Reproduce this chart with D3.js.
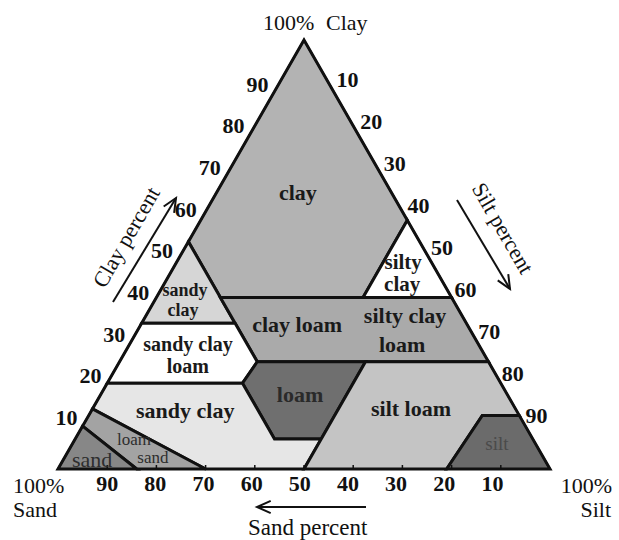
<!DOCTYPE html>
<html>
<head>
<meta charset="utf-8">
<script src="https://cdn.jsdelivr.net/npm/d3@7"></script>
<style>
  html, body { margin: 0; padding: 0; background: #ffffff; }
  svg { display: block; }
</style>
</head>
<body>
<svg id="chart" width="619" height="540"></svg>
<script>
// ---- Texture class boundaries, vertices as [sand, silt, clay] percent ----
const clayRegion          = [[0, 0, 100], [47, 0, 53], [47, 13, 40], [18, 42, 40], [0, 42, 58]];
const sandyClayRegion     = [[47, 0, 53], [66, 0, 34], [47, 19, 34]];
const siltyClayRegion     = [[0, 42, 58], [18, 42, 40], [0, 60, 40]];
const clayLoamBand        = [[47, 13, 40], [0, 60, 40], [0, 75, 25], [47, 28, 25]];
const sandyClayLoamRegion = [[66, 0, 34], [47, 19, 34], [47, 28, 25], [52.5, 27.5, 20], [80, 0, 20]];
const loamRegion          = [[47, 28, 25], [25, 50, 25], [43, 50, 7], [52.5, 40.5, 7], [52.5, 27.5, 20]];
const sandyLoamRegion     = [[80, 0, 20], [52.5, 27.5, 20], [52.5, 40.5, 7], [43, 50, 7], [50, 50, 0], [70, 30, 0], [86, 0, 14]];
const siltLoamRegion      = [[25, 50, 25], [0, 75, 25], [0, 87.5, 12.5], [7.5, 80, 12.5], [21, 79, 0], [50, 50, 0]];
const siltRegion          = [[7.5, 80, 12.5], [0, 87.5, 12.5], [0, 100, 0], [21, 79, 0]];
const loamySandRegion     = [[86, 0, 14], [70, 30, 0], [84, 16, 0], [90, 0, 10]];
const sandRegion          = [[90, 0, 10], [84, 16, 0], [100, 0, 0]];

// ---- Class names as printed, one anchor per printed line, [sand, silt, clay] ----
const classLabels  = [["clay"], ["sandy", "clay"], ["silty", "clay"], ["clay loam"], ["silty clay", "loam"],
                      ["sandy clay", "loam"], ["loam"], ["sandy clay"], ["silt loam"], ["silt"], ["loam", "sand"], ["sand"]];
const labelAnchors = [
  [[19, 16.5, 64.5]],
  [[53.4, 5.0, 41.6], [56.1, 6.95, 36.95]],
  [[5.7, 46, 48.3], [8.5, 48.4, 43.1]],
  [[34.6, 31.8, 33.6]],
  [[11.6, 52.7, 35.7], [15.6, 55.5, 28.9]],
  [[59, 11.85, 29.15], [61.6, 14.4, 24]],
  [[42.2, 40.6, 17.2]],
  [[67.4, 19.1, 13.5]],
  [[21.25, 64.75, 14]],
  [[7.9, 86.3, 5.8]],
  [[81.15, 12.05, 6.8], [79.4, 18, 2.6]],
  [[92, 5.9, 2.1]]
];

// ---- Axis tick labels ----
const clayTicks = [10, 20, 30, 40, 50, 60, 70, 80, 90];
const siltTicks = [10, 20, 30, 40, 50, 60, 70, 80, 90];
const sandTicks = [90, 80, 70, 60, 50, 40, 30, 20, 10];

// ---- Drawing ----
const svg = d3.select("#chart");
const gx = d3.scaleLinear().domain([0, 100]).range([58, 550]);   // silt + clay/2
const gy = d3.scaleLinear().domain([0, 100]).range([469, 40]);   // clay
const project = ([sand, silt, clay]) => [gx(silt + clay / 2), gy(clay)];
const outline = d3.line().x(d => project(d)[0]).y(d => project(d)[1]).curve(d3.curveLinearClosed);

const shapes = [
  { pts: clayRegion,          fill: "#b3b3b3" },
  { pts: sandyClayRegion,     fill: "#d6d6d6" },
  { pts: siltyClayRegion,     fill: "#ffffff" },
  { pts: clayLoamBand,        fill: "#aaaaaa" },
  { pts: sandyClayLoamRegion, fill: "#ffffff" },
  { pts: loamRegion,          fill: "#6f6f6f" },
  { pts: sandyLoamRegion,     fill: "#e6e6e6" },
  { pts: siltLoamRegion,      fill: "#c4c4c4" },
  { pts: siltRegion,          fill: "#6b6b6b" },
  { pts: loamySandRegion,     fill: "#a3a3a3" },
  { pts: sandRegion,          fill: "#878787" }
];

const serif = "'Liberation Serif', 'Times New Roman', serif";

svg.append("g").selectAll("path")
  .data(shapes)
  .join("path")
  .attr("d", d => outline(d.pts))
  .attr("fill", d => d.fill)
  .attr("stroke", "#111")
  .attr("stroke-width", 3)
  .attr("stroke-linejoin", "miter");

// triangle frame
svg.append("path")
  .attr("d", outline([[100, 0, 0], [0, 100, 0], [0, 0, 100]]))
  .attr("fill", "none")
  .attr("stroke", "#111")
  .attr("stroke-width", 2);

// small ticks along the base
svg.append("g").selectAll("line")
  .data(sandTicks)
  .join("line")
  .attr("x1", v => project([v, 100 - v, 0])[0])
  .attr("x2", v => project([v, 100 - v, 0])[0])
  .attr("y1", gy(0))
  .attr("y2", gy(0) - 4)
  .attr("stroke", "#111")
  .attr("stroke-width", 1.5);

// class names
const labelStyle = [
  { size: 22, weight: "bold", color: "#1a1a1a" },
  { size: 18, weight: "bold", color: "#1a1a1a" },
  { size: 21, weight: "bold", color: "#1a1a1a" },
  { size: 22, weight: "bold", color: "#1a1a1a" },
  { size: 22, weight: "bold", color: "#1a1a1a" },
  { size: 20, weight: "bold", color: "#1a1a1a" },
  { size: 22, weight: "bold", color: "#2a2a2a" },
  { size: 22, weight: "bold", color: "#1a1a1a" },
  { size: 22, weight: "bold", color: "#1a1a1a" },
  { size: 19, weight: "normal", color: "#4a4a4a" },
  { size: 17, weight: "normal", color: "#2e2e2e" },
  { size: 22, weight: "normal", color: "#2e2e2e" }
];
const labelGroup = svg.append("g").attr("font-family", serif);
classLabels.forEach((lines, i) => {
  const st = labelStyle[i];
  lines.forEach((ln, k) => {
    const [cx, cy] = project(labelAnchors[i][k]);
    labelGroup.append("text")
      .attr("text-anchor", "middle")
      .attr("font-size", st.size)
      .attr("font-weight", st.weight)
      .attr("fill", st.color)
      .attr("x", cx)
      .attr("y", cy)
      .attr("dy", "0.33em")
      .text(ln);
  });
});

// tick labels
const tickGroup = svg.append("g")
  .attr("font-family", serif)
  .attr("font-weight", "bold")
  .attr("font-size", 22)
  .attr("fill", "#111");

tickGroup.selectAll("text.clay")
  .data(clayTicks)
  .join("text")
  .attr("class", "clay")
  .attr("text-anchor", "end")
  .attr("dy", "0.35em")
  .attr("x", v => project([100 - v, 0, v])[0] - 5 - 6 * (v - 10) / 80)
  .attr("y", v => project([100 - v, 0, v])[1] - 9 + 10 * (v - 10) / 80)
  .text(v => v);

tickGroup.selectAll("text.silt")
  .data(siltTicks)
  .join("text")
  .attr("class", "silt")
  .attr("text-anchor", "start")
  .attr("dy", "0.35em")
  .attr("x", v => project([0, v, 100 - v])[0] + 8 - 8 * (v - 10) / 80)
  .attr("y", v => project([0, v, 100 - v])[1] - 4 - 7 * (v - 10) / 80)
  .text(v => v);

tickGroup.selectAll("text.sand")
  .data(sandTicks)
  .join("text")
  .attr("class", "sand")
  .attr("text-anchor", "middle")
  .attr("dy", "0.35em")
  .attr("x", v => project([v, 100 - v, 0])[0] - (90 - v) * 0.105)
  .attr("y", gy(0) + 14)
  .text(v => v);

// corner and axis titles
const titles = svg.append("g")
  .attr("font-family", serif)
  .attr("font-size", 22)
  .attr("fill", "#111");

titles.append("text").attr("x", 263).attr("y", 30).text("100%");
titles.append("text").attr("x", 326).attr("y", 30).text("Clay");

titles.append("text").attr("x", 13).attr("y", 493).text("100%");
titles.append("text").attr("x", 13).attr("y", 517).text("Sand");
titles.append("text").attr("x", 612).attr("y", 493).attr("text-anchor", "end").text("100%");
titles.append("text").attr("x", 611).attr("y", 517).attr("text-anchor", "end").text("Silt");

titles.append("text").attr("x", 248).attr("y", 535).attr("font-size", 23).text("Sand percent");

titles.append("text")
  .attr("transform", "translate(126,237) rotate(-60)")
  .attr("text-anchor", "middle").attr("dy", "0.35em").text("Clay percent");

titles.append("text")
  .attr("transform", "translate(503,228) rotate(60)")
  .attr("text-anchor", "middle").attr("dy", "0.35em").text("Silt percent");

// arrows
function arrow(x1, y1, x2, y2) {
  const g = svg.append("g").attr("stroke", "#111").attr("stroke-width", 2).attr("fill", "none");
  g.append("line").attr("x1", x1).attr("y1", y1).attr("x2", x2).attr("y2", y2);
  const a = Math.atan2(y2 - y1, x2 - x1);
  const len = 15, spread = 0.42;
  const p1 = [x2 - len * Math.cos(a - spread), y2 - len * Math.sin(a - spread)];
  const p2 = [x2 - len * Math.cos(a + spread), y2 - len * Math.sin(a + spread)];
  g.append("path").attr("d", `M${p1[0]},${p1[1]}L${x2},${y2}L${p2[0]},${p2[1]}`);
}
arrow(366, 507, 257, 507);
arrow(113, 302, 176, 198);
arrow(457, 200, 510, 289);
</script>
</body>
</html>
